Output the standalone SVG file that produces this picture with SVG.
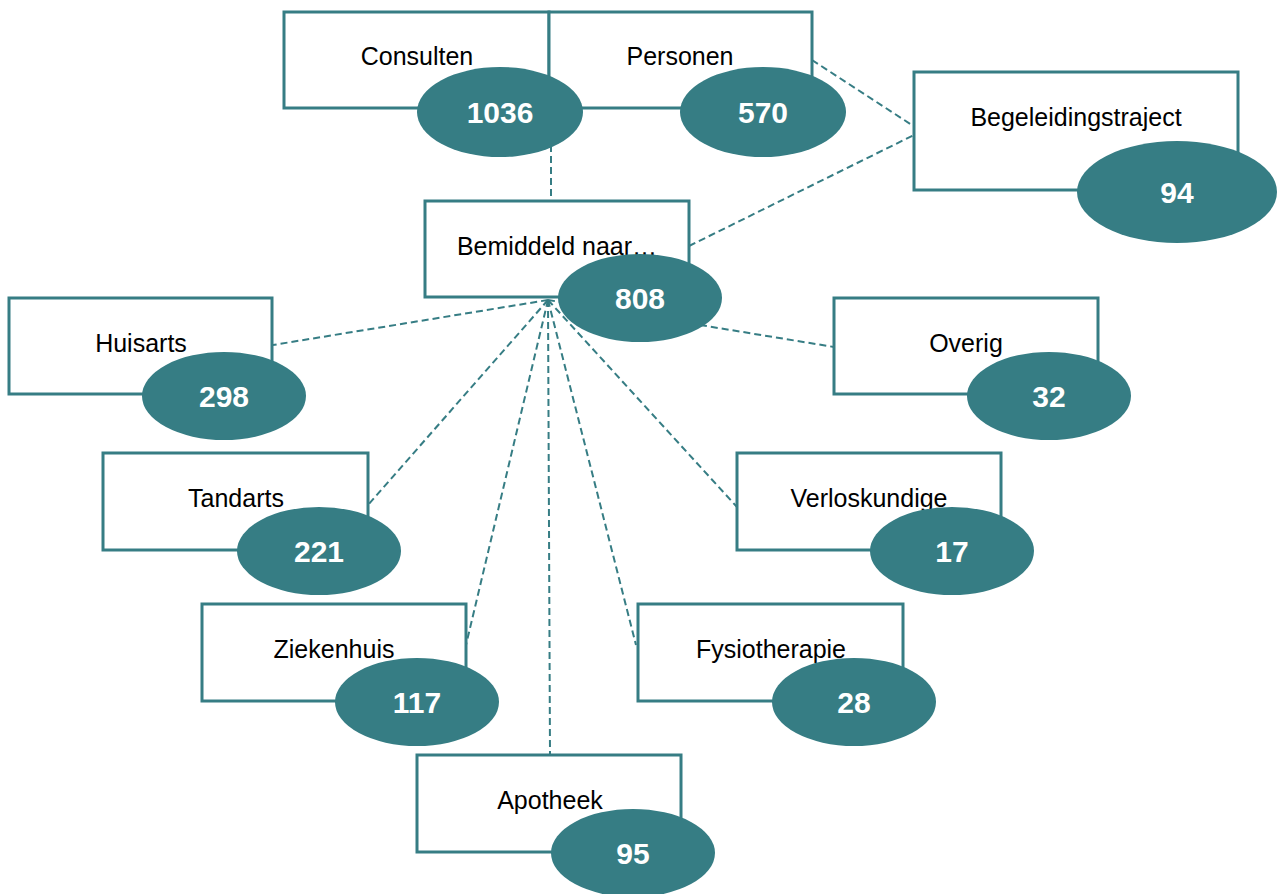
<svg xmlns="http://www.w3.org/2000/svg" width="1277" height="894" viewBox="0 0 1277 894">
<style>
.box{fill:#fff;stroke:#367d84;stroke-width:3}
.ell{fill:#367d84}
.lbl{font-family:"Liberation Sans",Arial,sans-serif;font-size:25px;fill:#000;text-anchor:middle}
.num{font-family:"Liberation Sans",Arial,sans-serif;font-size:30px;font-weight:bold;fill:#fff;text-anchor:middle}
.con{stroke:#367d84;stroke-width:2;stroke-dasharray:7,4;fill:none}
</style>
<rect width="1277" height="894" fill="#fff"/>
<g id="connectors">
<line class="con" x1="551" y1="145" x2="551" y2="201"/>
<line class="con" x1="812" y1="60" x2="918" y2="129"/>
<line class="con" x1="689" y1="246" x2="918" y2="133"/>
<line class="con" x1="548" y1="300" x2="273" y2="345"/>
<line class="con" x1="548" y1="300" x2="368" y2="505"/>
<line class="con" x1="548" y1="300" x2="466" y2="645"/>
<line class="con" x1="548" y1="300" x2="550" y2="755"/>
<line class="con" x1="548" y1="300" x2="636" y2="645"/>
<line class="con" x1="548" y1="300" x2="737" y2="507"/>
<line class="con" x1="548" y1="300" x2="834" y2="347"/>
</g>
<g id="consulten">
<rect class="box" x="284" y="12" width="265" height="96"/>
<text class="lbl" x="417" y="65">Consulten</text>
</g>
<g id="personen">
<rect class="box" x="549" y="12" width="263" height="96"/>
<text class="lbl" x="680" y="65">Personen</text>
</g>
<g id="consulten-num">
<ellipse class="ell" cx="500" cy="112" rx="83" ry="45"/>
<text class="num" x="500" y="123">1036</text>
</g>
<g id="personen-num">
<ellipse class="ell" cx="763" cy="112" rx="83" ry="45"/>
<text class="num" x="763" y="123">570</text>
</g>
<g id="begeleidingstraject">
<rect class="box" x="914" y="72" width="324" height="118"/>
<text class="lbl" x="1076" y="126">Begeleidingstraject</text>
<ellipse class="ell" cx="1177" cy="192" rx="100" ry="51"/>
<text class="num" x="1177" y="203">94</text>
</g>
<g id="bemiddeld">
<rect class="box" x="425" y="201" width="264" height="96"/>
<text class="lbl" x="557" y="255">Bemiddeld naar…</text>
<ellipse class="ell" cx="640" cy="298" rx="82" ry="44"/>
<text class="num" x="640" y="309">808</text>
</g>
<g id="huisarts">
<rect class="box" x="9" y="298" width="263" height="96"/>
<text class="lbl" x="141" y="352">Huisarts</text>
<ellipse class="ell" cx="224" cy="396" rx="82" ry="44"/>
<text class="num" x="224" y="407">298</text>
</g>
<g id="tandarts">
<rect class="box" x="103" y="453" width="265" height="97"/>
<text class="lbl" x="236" y="507">Tandarts</text>
<ellipse class="ell" cx="319" cy="551" rx="82" ry="44"/>
<text class="num" x="319" y="562">221</text>
</g>
<g id="ziekenhuis">
<rect class="box" x="202" y="604" width="264" height="97"/>
<text class="lbl" x="334" y="658">Ziekenhuis</text>
<ellipse class="ell" cx="417" cy="702" rx="82" ry="44"/>
<text class="num" x="417" y="713">117</text>
</g>
<g id="apotheek">
<rect class="box" x="417" y="755" width="264" height="97"/>
<text class="lbl" x="550" y="809">Apotheek</text>
<ellipse class="ell" cx="633" cy="853" rx="82" ry="44"/>
<text class="num" x="633" y="864">95</text>
</g>
<g id="overig">
<rect class="box" x="834" y="298" width="264" height="96"/>
<text class="lbl" x="966" y="352">Overig</text>
<ellipse class="ell" cx="1049" cy="396" rx="82" ry="44"/>
<text class="num" x="1049" y="407">32</text>
</g>
<g id="verloskundige">
<rect class="box" x="737" y="453" width="264" height="97"/>
<text class="lbl" x="869" y="507">Verloskundige</text>
<ellipse class="ell" cx="952" cy="551" rx="82" ry="44"/>
<text class="num" x="952" y="562">17</text>
</g>
<g id="fysiotherapie">
<rect class="box" x="638" y="604" width="265" height="97"/>
<text class="lbl" x="771" y="658">Fysiotherapie</text>
<ellipse class="ell" cx="854" cy="702" rx="82" ry="44"/>
<text class="num" x="854" y="713">28</text>
</g>
</svg>
